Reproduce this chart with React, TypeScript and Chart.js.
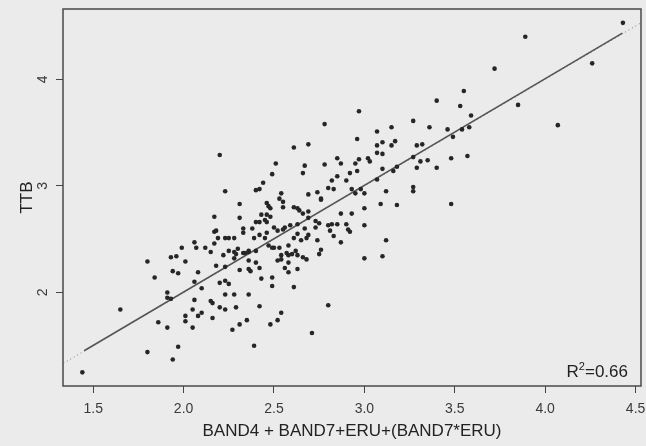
import React, { useEffect, useRef } from "react";
import { Chart, registerables } from "chart.js";

Chart.register(...registerables);

// ---- data ----
const upperX = [
  2.20, 2.23, 2.40, 2.42, 3.40, 2.97, 2.78, 3.27, 3.15, 3.36,
  3.46, 3.07, 2.96, 3.10, 3.17, 3.07, 3.15, 3.29, 3.32, 2.61,
  2.69, 3.07, 3.10, 2.85, 2.97, 3.02, 3.03, 3.27, 2.87, 2.95,
  3.31, 3.35, 3.48, 2.51, 2.67, 2.78, 3.29, 3.40, 3.18, 3.16,
  2.96, 2.92, 2.66, 2.49, 2.85, 2.82, 2.90, 3.07, 2.44,
  2.80, 2.83, 2.93, 2.98, 3.00, 2.95, 3.12, 3.27, 3.27, 2.54,
  2.69, 2.74, 2.76, 2.53, 3.10,
  4.43, 3.89, 4.26, 3.72, 3.55, 3.53, 3.85, 3.59, 3.54, 3.58, 3.49, 4.07, 3.57,
];
const upperY = [
  3.29, 2.95, 2.96, 2.97, 3.80, 3.70, 3.58, 3.61, 3.55, 3.55,
  3.53, 3.51, 3.44, 3.41, 3.42, 3.38, 3.38, 3.38, 3.39, 3.36,
  3.39, 3.31, 3.30, 3.26, 3.25, 3.26, 3.23, 3.27, 3.21, 3.21,
  3.23, 3.24, 3.26, 3.21, 3.19, 3.20, 3.17, 3.17, 3.18, 3.14,
  3.14, 3.12, 3.12, 3.11, 3.09, 3.05, 3.05, 3.06, 3.03,
  2.98, 2.97, 2.97, 2.97, 2.93, 2.93, 2.95, 2.99, 2.95, 2.93,
  2.92, 2.94, 2.88, 2.88, 3.16,
  4.53, 4.40, 4.15, 4.10, 3.89, 3.75, 3.76, 3.66, 3.53, 3.55, 3.46, 3.57, 3.28,
];
const midX = [
  2.31, 2.46, 2.55, 2.48, 2.47, 2.55, 2.61, 2.64, 2.63, 2.66,
  2.46, 2.48, 2.17, 2.31, 2.69, 2.45, 2.42, 2.40, 2.46, 2.50,
  2.56, 2.55, 2.59, 2.67, 2.33, 2.38, 2.17, 2.18, 2.33, 2.52,
  2.46, 2.63, 2.19, 2.23, 2.25, 2.28, 2.39, 2.45, 2.61, 2.68,
];
const midY = [
  2.83, 2.84, 2.85, 2.79, 2.81, 2.80, 2.80, 2.77, 2.79, 2.74,
  2.73, 2.71, 2.71, 2.70, 2.70, 2.68, 2.66, 2.66, 2.66, 2.61,
  2.61, 2.59, 2.63, 2.60, 2.60, 2.60, 2.57, 2.58, 2.56, 2.58,
  2.56, 2.55, 2.51, 2.51, 2.51, 2.51, 2.51, 2.51, 2.51, 2.51,
];
const lowerX = [
  2.06, 2.17, 2.07, 1.99, 2.12, 2.15, 2.25, 2.28, 2.30, 2.33,
  2.36, 2.40, 2.29, 2.34, 2.36, 1.93, 1.96, 2.22, 2.28, 1.80,
  2.01, 2.36, 2.40, 2.18, 2.23, 2.42, 1.94, 1.97, 2.08, 2.31,
  2.36, 2.37, 1.84, 2.06, 2.20, 2.23, 2.25, 2.10, 2.23, 2.28,
  2.36, 1.91, 1.91, 1.93, 2.06, 2.15, 2.16, 2.42, 2.20, 2.23,
  2.29, 1.65, 2.05, 2.10, 2.08, 2.01, 2.16, 2.01, 2.35, 1.86,
  2.05, 1.91, 2.31, 2.27, 2.39, 1.97, 1.80, 1.94, 1.44,
];
const lowerY = [
  2.47, 2.46, 2.42, 2.42, 2.42, 2.38, 2.39, 2.38, 2.41, 2.37,
  2.38, 2.39, 2.36, 2.37, 2.39, 2.33, 2.34, 2.35, 2.32, 2.29,
  2.29, 2.30, 2.28, 2.25, 2.24, 2.23, 2.20, 2.18, 2.19, 2.21,
  2.22, 2.20, 2.14, 2.10, 2.09, 2.11, 2.08, 2.04, 1.98, 1.98,
  1.98, 2.00, 1.95, 1.94, 1.93, 1.92, 1.90, 1.87, 1.86, 1.84,
  1.86, 1.84, 1.84, 1.81, 1.78, 1.78, 1.76, 1.73, 1.74, 1.72,
  1.67, 1.67, 1.70, 1.65, 1.50, 1.49, 1.44, 1.37, 1.25,
];
const centerX = [
  2.42, 2.65, 2.58, 2.50, 2.47, 2.49, 2.53, 2.57, 2.54, 2.58,
  2.60, 2.62, 2.63, 2.52, 2.54, 2.58, 2.66, 2.68, 2.56, 2.63,
  2.58, 2.49, 2.43, 2.49, 2.61, 2.54, 2.52, 2.48,
];
const centerY = [
  2.54, 2.49, 2.44, 2.42, 2.44, 2.42, 2.42, 2.37, 2.35, 2.35,
  2.36, 2.39, 2.35, 2.30, 2.31, 2.28, 2.33, 2.31, 2.23, 2.22,
  2.19, 2.14, 2.13, 2.06, 2.05, 1.81, 1.74, 1.70,
];
const rightX = [
  2.76, 2.69, 2.87, 2.93, 3.00, 3.09, 3.18, 3.48, 2.43, 2.63,
  2.73, 2.75, 2.80, 2.82, 2.85, 2.81, 2.90, 2.92, 3.00, 2.69,
  2.74, 2.87, 2.83, 3.12, 2.76, 2.75, 3.00, 3.10, 2.80, 2.71,
  2.73, 2.91,
];
const rightY = [
  2.87, 2.76, 2.74, 2.74, 2.79, 2.83, 2.82, 2.83, 2.73, 2.64,
  2.67, 2.65, 2.63, 2.64, 2.64, 2.58, 2.64, 2.57, 2.63, 2.54,
  2.49, 2.47, 2.53, 2.49, 2.40, 2.36, 2.32, 2.34, 1.88, 1.62,
  2.61, 2.59,
];

// fitted regression line and 1:1 reference line
const fitX = [1.45, 4.427];
const fitY = [1.453, 4.434];
const refX = [1.335, 4.53];
const refY = [1.335, 4.53];

const xTicks = [1.5, 2.0, 2.5, 3.0, 3.5, 4.0, 4.5];
const yTicks = [2, 3, 4];
const xTitle = "BAND4 + BAND7+ERU+(BAND7*ERU)";
const yTitle = "TTB";
const r2Value = "0.66";

const FONT = '"Liberation Sans", Arial, Helvetica, sans-serif';
const INK = "#3a3a3a";

const allX = [...upperX, ...midX, ...lowerX, ...centerX, ...rightX];
const allY = [...upperY, ...midY, ...lowerY, ...centerY, ...rightY];

const boxPlugin = {
  id: "boxAndR2",
  afterDraw(chart: any) {
    const { ctx, chartArea: a } = chart;
    ctx.save();
    ctx.strokeStyle = "#4a4a4a";
    ctx.lineWidth = 1.5;
    ctx.strokeRect(a.left, a.top, a.right - a.left, a.bottom - a.top);
    ctx.fillStyle = "#222";
    ctx.textBaseline = "alphabetic";
    ctx.textAlign = "right";
    const right = a.right - 13;
    const base = a.bottom - 9.5;
    ctx.font = `17px ${FONT}`;
    const rest = "=" + r2Value;
    ctx.fillText(rest, right, base);
    const w = ctx.measureText(rest).width;
    ctx.font = `11px ${FONT}`;
    ctx.fillText("2", right - w, base - 7);
    const w2 = ctx.measureText("2").width;
    ctx.font = `17px ${FONT}`;
    ctx.fillText("R", right - w - w2, base);
    ctx.restore();
  },
};

export default function App() {
  const ref = useRef<HTMLCanvasElement | null>(null);

  useEffect(() => {
    document.body.style.margin = "0";
    document.body.style.background = "#ebebeb";
    const canvas = ref.current!;
    const chart = new Chart(canvas, {
      type: "scatter",
      data: {
        datasets: [
          {
            label: "points",
            data: allX.map((x, i) => ({ x, y: allY[i] })),
            pointRadius: 2.3,
            pointBackgroundColor: "#262626",
            pointBorderColor: "#262626",
            pointBorderWidth: 0,
            showLine: false,
          },
          {
            label: "fit",
            data: fitX.map((x, i) => ({ x, y: fitY[i] })),
            showLine: true,
            pointRadius: 0,
            borderColor: "#555555",
            borderWidth: 1.6,
          },
          {
            label: "ref",
            data: refX.map((x, i) => ({ x, y: refY[i] })),
            showLine: true,
            pointRadius: 0,
            borderColor: "#777777",
            borderWidth: 1,
            borderDash: [1, 3],
          },
        ],
      },
      options: {
        responsive: false,
        animation: false,
        devicePixelRatio: 1,
        layout: { padding: { left: 0, right: 5, top: 9, bottom: 0 } },
        plugins: {
          legend: { display: false },
          tooltip: { enabled: false },
        },
        scales: {
          x: {
            type: "linear",
            min: 1.333,
            max: 4.53,
            afterBuildTicks: (s: any) => {
              s.ticks = xTicks.map((v) => ({ value: v }));
            },
            afterFit: (s: any) => {
              s.height = 60;
              s.paddingLeft = 0;
              s.paddingRight = 0;
            },
            grid: {
              drawOnChartArea: false,
              drawTicks: true,
              tickLength: 7,
              tickColor: "#444",
              tickWidth: 1,
            },
            border: { display: false },
            ticks: {
              color: INK,
              font: { family: FONT, size: 14 },
              padding: 8,
              maxRotation: 0,
              autoSkip: false,
              callback: (v: any) => Number(v).toFixed(1),
            },
            title: {
              display: true,
              text: xTitle,
              color: "#222",
              font: { family: FONT, size: 17 },
              padding: { top: 0, bottom: 4 },
            },
          },
          y: {
            type: "linear",
            min: 1.122,
            max: 4.66,
            afterBuildTicks: (s: any) => {
              s.ticks = yTicks.map((v) => ({ value: v }));
            },
            afterFit: (s: any) => {
              s.width = 63;
              s.paddingTop = 0;
              s.paddingBottom = 0;
            },
            grid: {
              drawOnChartArea: false,
              drawTicks: true,
              tickLength: 7,
              tickColor: "#444",
              tickWidth: 1,
            },
            border: { display: false },
            ticks: {
              color: INK,
              font: { family: FONT, size: 14 },
              padding: 9,
              minRotation: 90,
              maxRotation: 90,
              crossAlign: "center",
              autoSkip: false,
              callback: (v: any) => String(v),
            },
            title: {
              display: true,
              text: yTitle,
              color: "#222",
              font: { family: FONT, size: 17 },
              padding: { top: 17, bottom: 0 },
            },
          },
        },
      },
      plugins: [boxPlugin],
    } as any);
    return () => chart.destroy();
  }, []);

  return (
    <div style={{ width: 646, height: 446 }}>
      <canvas ref={ref} width={646} height={446} style={{ display: "block" }} />
    </div>
  );
}
